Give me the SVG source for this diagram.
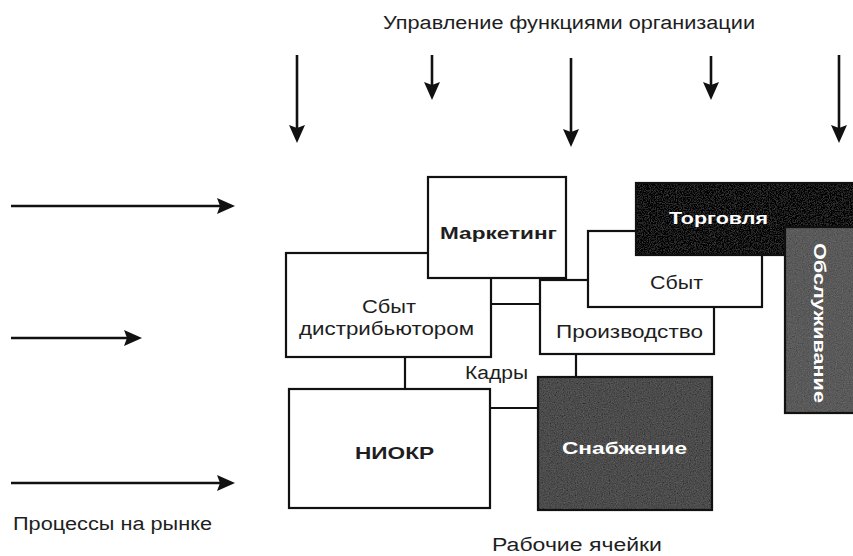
<svg xmlns="http://www.w3.org/2000/svg" width="853" height="556" viewBox="0 0 853 556">
  <style>
    .lbl { font-family: "Liberation Sans", Arial, sans-serif; font-size: 18px; fill: #1e1e1e; }
    .bold { font-weight: bold; font-size: 17px; }
    .inv { fill: #ffffff; }
    .box { fill: #ffffff; stroke: #111111; stroke-width: 2.2; }
    .edge { fill: none; stroke: #111111; stroke-width: 2.2; }
    .flow { fill: none; stroke: #111111; stroke-width: 2.6; }
  </style>
  <defs>
    <marker id="head" viewBox="0 0 18 16" refX="14" refY="8" markerWidth="18" markerHeight="16" markerUnits="userSpaceOnUse" orient="auto">
      <path d="M0,0 L18,8 L0,16 L3,8 z" fill="#111111"/>
    </marker>
    <!-- speckled print texture for the shaded cells -->
    <filter id="grain" x="0" y="0" width="100%" height="100%">
      <feTurbulence type="fractalNoise" baseFrequency="0.85" numOctaves="2" seed="7" result="noise"/>
      <feColorMatrix in="noise" type="matrix" values="0.33 0.33 0.33 0 0  0.33 0.33 0.33 0 0  0.33 0.33 0.33 0 0  0 0 0 0 1" result="grey"/>
      <feComposite in="SourceGraphic" in2="grey" operator="arithmetic" k1="0" k2="1" k3="0.22" k4="-0.11"/>
    </filter>
  </defs>

  <!-- headings -->
  <text class="lbl" x="383" y="29" textLength="372" lengthAdjust="spacingAndGlyphs">Управление функциями организации</text>
  <text class="lbl" x="13" y="530" textLength="199" lengthAdjust="spacingAndGlyphs">Процессы на рынке</text>
  <text class="lbl" x="492" y="551" textLength="170" lengthAdjust="spacingAndGlyphs">Рабочие ячейки</text>

  <!-- connectors: control flows, market flows and links between cells -->
  <g id="connectors">
    <line class="flow" x1="297" y1="55" x2="297" y2="139" marker-end="url(#head)"/>
    <line class="flow" x1="432" y1="55" x2="432" y2="96" marker-end="url(#head)"/>
    <line class="flow" x1="571" y1="58" x2="571" y2="143" marker-end="url(#head)"/>
    <line class="flow" x1="711" y1="56" x2="711" y2="96" marker-end="url(#head)"/>
    <line class="flow" x1="839" y1="55" x2="839" y2="139" marker-end="url(#head)"/>

    <line class="flow" x1="11" y1="206" x2="231" y2="206" marker-end="url(#head)"/>
    <line class="flow" x1="11" y1="338" x2="138" y2="338" marker-end="url(#head)"/>
    <line class="flow" x1="11" y1="483" x2="231" y2="483" marker-end="url(#head)"/>

    <line class="edge" x1="491" y1="304" x2="540" y2="304"/>
    <line class="edge" x1="405" y1="357" x2="405" y2="389"/>
    <line class="edge" x1="576" y1="354" x2="576" y2="377"/>
    <line class="edge" x1="490" y1="408" x2="538" y2="408"/>
  </g>
  <text class="lbl" x="465" y="379" textLength="63" lengthAdjust="spacingAndGlyphs">Кадры</text>

  <g id="sbyt-distributor">
    <rect class="box" x="286" y="253" width="205" height="104"/>
    <text class="lbl" x="362" y="313" textLength="54" lengthAdjust="spacingAndGlyphs">Сбыт</text>
    <text class="lbl" x="299" y="335" textLength="175" lengthAdjust="spacingAndGlyphs">дистрибьютором</text>
  </g>

  <g id="marketing">
    <rect class="box" x="428" y="177" width="138" height="101"/>
    <text class="lbl bold" x="440" y="239" textLength="117" lengthAdjust="spacingAndGlyphs">Маркетинг</text>
  </g>

  <g id="proizvodstvo">
    <rect class="box" x="540" y="280" width="174" height="74"/>
    <text class="lbl" x="556" y="338" textLength="147" lengthAdjust="spacingAndGlyphs">Производство</text>
  </g>

  <g id="sbyt">
    <rect class="box" x="588" y="231" width="174" height="76"/>
    <text class="lbl" x="650" y="289" textLength="53" lengthAdjust="spacingAndGlyphs">Сбыт</text>
  </g>

  <g id="torgovlya">
    <rect x="636" y="183" width="220" height="72" fill="#171717" filter="url(#grain)"/>
    <rect class="edge" x="636" y="183" width="222" height="72"/>
    <text class="lbl bold inv" x="669" y="224" textLength="99" lengthAdjust="spacingAndGlyphs">Торговля</text>
  </g>

  <g id="obsluzhivanie">
    <rect x="785" y="227" width="71" height="186" fill="#5a5a5a" filter="url(#grain)"/>
    <rect class="edge" x="785" y="227" width="73" height="186"/>
    <text class="lbl bold inv" transform="translate(814 243) rotate(90)" x="0" y="0" textLength="160" lengthAdjust="spacingAndGlyphs">Обслуживание</text>
  </g>

  <g id="niokr">
    <rect class="box" x="289" y="389" width="201" height="119"/>
    <text class="lbl bold" x="355" y="459" textLength="79" lengthAdjust="spacingAndGlyphs">НИОКР</text>
  </g>

  <g id="snabzhenie">
    <rect x="538" y="377" width="174" height="133" fill="#4c4c4c" filter="url(#grain)"/>
    <rect class="edge" x="538" y="377" width="174" height="133"/>
    <text class="lbl bold inv" x="562" y="454" textLength="125" lengthAdjust="spacingAndGlyphs">Снабжение</text>
  </g>
</svg>
